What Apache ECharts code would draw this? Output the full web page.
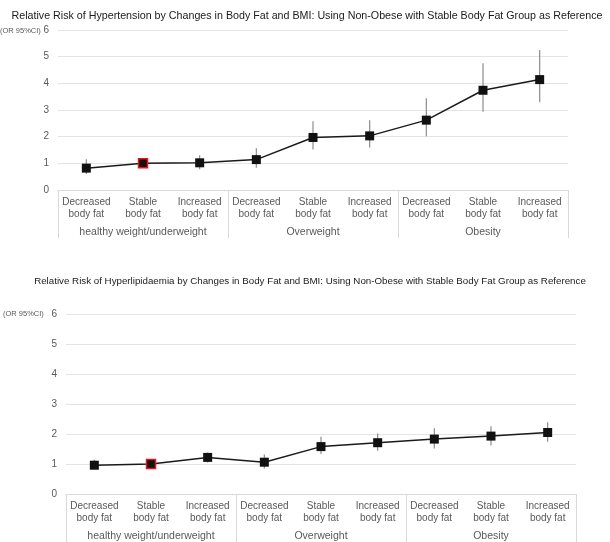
<!DOCTYPE html>
<html><head><meta charset="utf-8">
<script src="https://cdn.jsdelivr.net/npm/echarts@6/dist/echarts.min.js"></script>
<style>html,body{margin:0;padding:0;background:#fff}#c{width:610px;height:542px}</style>
</head><body><div id="c"></div>
<script>
var categories = ['Decreased\nbody fat','Stable\nbody fat','Increased\nbody fat','Decreased\nbody fat','Stable\nbody fat','Increased\nbody fat','Decreased\nbody fat','Stable\nbody fat','Increased\nbody fat'];
var groups = ['healthy weight/underweight','Overweight','Obesity'];
var yTicks = [0,1,2,3,4,5,6];
var htnOR  = [0.82, 1.00, 1.02, 1.14, 1.97, 2.03, 2.62, 3.74, 4.14];
var htnLow = [0.60, 1.00, 0.78, 0.83, 1.52, 1.59, 2.02, 2.93, 3.29];
var htnHigh= [1.15, 1.00, 1.30, 1.57, 2.58, 2.62, 3.44, 4.75, 5.25];
var hlpOR  = [0.96, 1.00, 1.22, 1.06, 1.58, 1.71, 1.83, 1.93, 2.05];
var hlpLow = [0.82, 1.00, 1.05, 0.85, 1.33, 1.44, 1.52, 1.62, 1.74];
var hlpHigh= [1.14, 1.00, 1.38, 1.32, 1.91, 2.02, 2.19, 2.26, 2.39];
var refIndex = 1;
var titles = ['Relative Risk of Hypertension by Changes in Body Fat and BMI: Using Non-Obese with Stable Body Fat Group as Reference',
              'Relative Risk of Hyperlipidaemia by Changes in Body Fat and BMI: Using Non-Obese with Stable Body Fat Group as Reference'];

var chart = echarts.init(document.getElementById('c'));
var axisGray = '#d9d9d9', txt = '#595959';

function xAxes(gi){
  return [{
    type:'category', gridIndex:gi, data:categories, position:'bottom',
    axisLine:{show:true, lineStyle:{color:axisGray}}, axisTick:{show:false},
    axisLabel:{color:txt, fontSize:10, lineHeight:12, margin:6, interval:0, fontFamily:'Liberation Sans'}
  },{
    type:'category', gridIndex:gi, data:groups, position:'bottom',
    axisLine:{show:true, lineStyle:{color:axisGray}},
    axisTick:{show:true, length:48, interval:0, lineStyle:{color:axisGray}},
    axisLabel:{color:txt, fontSize:10.5, margin:37, interval:0, fontFamily:'Liberation Sans'}
  }];
}
function yAxis(gi){
  return {type:'value', gridIndex:gi, min:0, max:6, interval:1,
    axisLine:{show:false}, axisTick:{show:false},
    splitLine:{lineStyle:{color:'#e4e4e4'}},
    axisLabel:{color:txt, fontSize:10, margin:9, fontFamily:'Liberation Sans',
      formatter:function(v){return yTicks.indexOf(v)>=0 ? String(v) : '';}}};
}
function errData(lo,hi){ return lo.map(function(l,i){return [i,l,hi[i]];}); }
function lineData(v){
  return v.map(function(y,i){
    return i===refIndex ? {value:y, itemStyle:{borderColor:'#e8141b', borderWidth:1.5}} : y;
  });
}
function errSeries(gi, lo, hi){
  return {type:'custom', xAxisIndex:gi*2, yAxisIndex:gi, data:errData(lo,hi), z:1,
    encode:{x:0,y:[1,2]}, silent:true,
    renderItem:function(params, api){
      var p1 = api.coord([api.value(0), api.value(1)]);
      var p2 = api.coord([api.value(0), api.value(2)]);
      return {type:'line', shape:{x1:p1[0],y1:p1[1],x2:p2[0],y2:p2[1]},
        style:{stroke:'#8c8c8c', lineWidth:1.2}};
    }};
}
function mainSeries(gi, v){
  return {type:'line', xAxisIndex:gi*2, yAxisIndex:gi, data:lineData(v), z:3,
    symbol:'rect', symbolSize:9, showSymbol:true,
    itemStyle:{color:'#111', borderColor:'#111', borderWidth:0},
    lineStyle:{color:'#1a1a1a', width:1.5}, silent:true, animation:false};
}

chart.setOption({
  animation:false,
  title:[
    {text:titles[0], left:302, top:6, textAlign:'center', textStyle:{fontSize:10.7, fontWeight:'normal', color:'#1a1a1a', fontFamily:'Liberation Sans'}},
    {text:titles[1], left:305, top:271, textAlign:'center', textStyle:{fontSize:9.75, fontWeight:'normal', color:'#1a1a1a', fontFamily:'Liberation Sans'}}
  ],
  graphic:[
    {type:'text', left:0, top:27, style:{text:'(OR 95%CI)', fontSize:7.5, fill:txt, fontFamily:'Liberation Sans'}},
    {type:'text', left:3, top:310, style:{text:'(OR 95%CI)', fontSize:7.5, fill:txt, fontFamily:'Liberation Sans'}}
  ],
  grid:[
    {left:58, right:42, top:30, height:160},
    {left:66, right:34, top:314, height:180}
  ],
  xAxis: xAxes(0).concat(xAxes(1)),
  yAxis:[yAxis(0), yAxis(1)],
  series:[
    errSeries(0, htnLow, htnHigh), mainSeries(0, htnOR),
    errSeries(1, hlpLow, hlpHigh), mainSeries(1, hlpOR)
  ]
});
</script></body></html>
